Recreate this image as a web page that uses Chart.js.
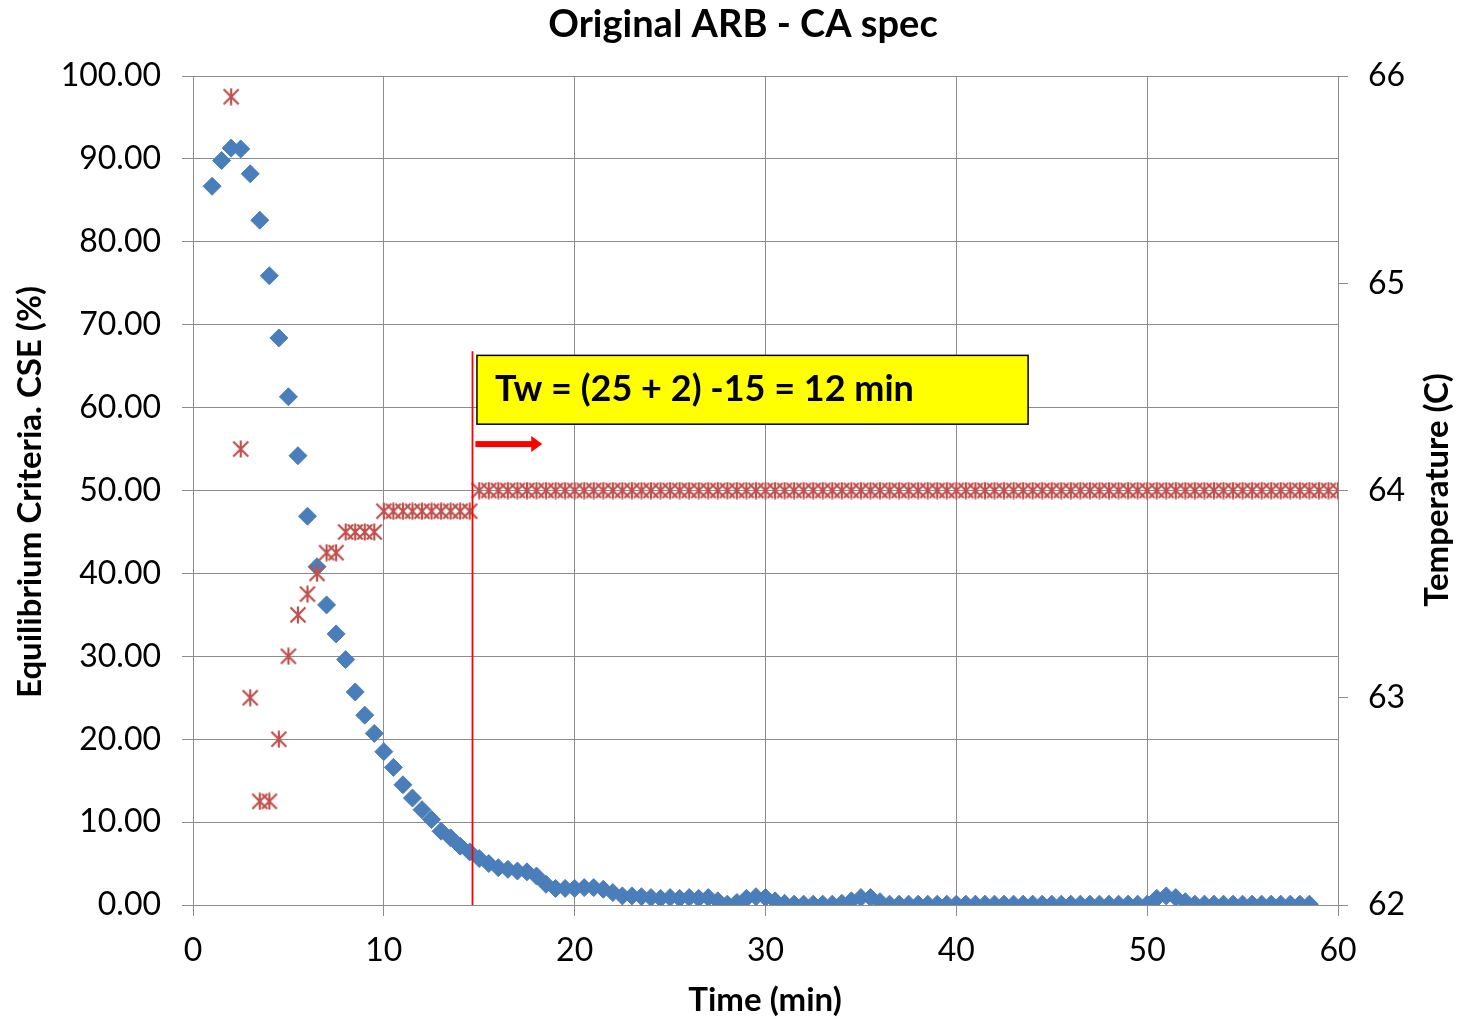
<!DOCTYPE html>
<html>
<head>
<meta charset="utf-8">
<title>Original ARB - CA spec</title>
<script src="https://cdn.jsdelivr.net/npm/chart.js@4.4.0/dist/chart.umd.min.js"></script>
<style>
  html, body { margin: 0; padding: 0; background: #fff; }
  #wrap { width: 1465px; height: 1019px; }
</style>
</head>
<body>
<div id="wrap"><canvas id="chart" width="1465" height="1019"></canvas></div>
<script>
// CSE series (left axis), sampled every half minute
const cseTimes = [
  1, 1.5, 2, 2.5, 3, 3.5, 4, 4.5, 5, 5.5, 6, 6.5, 7, 7.5, 8, 8.5, 9, 9.5, 10, 10.5,
  11, 11.5, 12, 12.5, 13, 13.5, 14, 14.5, 15, 15.5, 16, 16.5, 17, 17.5, 18, 18.5, 19, 19.5, 20, 20.5,
  21, 21.5, 22, 22.5, 23, 23.5, 24, 24.5, 25, 25.5, 26, 26.5, 27, 27.5, 28, 28.5, 29, 29.5, 30, 30.5,
  31, 31.5, 32, 32.5, 33, 33.5, 34, 34.5, 35, 35.5, 36, 36.5, 37, 37.5, 38, 38.5, 39, 39.5, 40, 40.5,
  41, 41.5, 42, 42.5, 43, 43.5, 44, 44.5, 45, 45.5, 46, 46.5, 47, 47.5, 48, 48.5, 49, 49.5, 50, 50.5,
  51, 51.5, 52, 52.5, 53, 53.5, 54, 54.5, 55, 55.5, 56, 56.5, 57, 57.5, 58, 58.5
];
const cseValues = [
  86.7, 89.8, 91.3, 91.2, 88.2, 82.6, 75.9, 68.4, 61.3, 54.2, 46.9, 40.8, 36.2, 32.7, 29.6, 25.7, 22.9, 20.7, 18.5, 16.6,
  14.5, 12.9, 11.5, 10.3, 8.9, 8.1, 7.1, 6.4, 5.6, 5.0, 4.5, 4.3, 4.1, 4.0, 3.5, 2.5, 2.0, 2.0, 2.0, 2.1,
  2.1, 1.9, 1.5, 1.1, 1.1, 1.0, 0.9, 0.8, 0.9, 0.8, 0.9, 0.8, 0.9, 0.5, 0.1, 0.3, 0.8, 1.0, 0.9, 0.5,
  0.2, 0.1, 0.1, 0.1, 0.1, 0.1, 0.2, 0.5, 0.9, 0.9, 0.4, 0.1, 0.1, 0.1, 0.1, 0.1, 0.1, 0.1, 0.1, 0.1,
  0.1, 0.1, 0.1, 0.1, 0.1, 0.1, 0.1, 0.1, 0.1, 0.1, 0.1, 0.1, 0.1, 0.1, 0.1, 0.1, 0.1, 0.1, 0.1, 0.8,
  1.1, 0.9, 0.4, 0.1, 0.1, 0.1, 0.1, 0.1, 0.1, 0.1, 0.1, 0.1, 0.1, 0.1, 0.1, 0.1
];

// Temperature series (right axis)
const tempTimes = [
  2, 2.5, 3, 3.5, 4, 4.5, 5, 5.5, 6, 6.5, 7, 7.5, 8, 8.5, 9, 9.5, 10, 10.5,
  11, 11.5, 12, 12.5, 13, 13.5, 14, 14.5, 15, 15.5, 16, 16.5, 17, 17.5, 18, 18.5, 19, 19.5, 20, 20.5,
  21, 21.5, 22, 22.5, 23, 23.5, 24, 24.5, 25, 25.5, 26, 26.5, 27, 27.5, 28, 28.5, 29, 29.5, 30, 30.5,
  31, 31.5, 32, 32.5, 33, 33.5, 34, 34.5, 35, 35.5, 36, 36.5, 37, 37.5, 38, 38.5, 39, 39.5, 40, 40.5,
  41, 41.5, 42, 42.5, 43, 43.5, 44, 44.5, 45, 45.5, 46, 46.5, 47, 47.5, 48, 48.5, 49, 49.5, 50, 50.5,
  51, 51.5, 52, 52.5, 53, 53.5, 54, 54.5, 55, 55.5, 56, 56.5, 57, 57.5, 58, 58.5, 59, 59.5, 60
];
const tempValues = [
  65.9, 64.2, 63.0, 62.5, 62.5, 62.8, 63.2, 63.4, 63.5, 63.6, 63.7, 63.7, 63.8, 63.8, 63.8, 63.8, 63.9, 63.9,
  63.9, 63.9, 63.9, 63.9, 63.9, 63.9, 63.9, 63.9, 64, 64, 64, 64, 64, 64, 64, 64, 64, 64, 64, 64,
  64, 64, 64, 64, 64, 64, 64, 64, 64, 64, 64, 64, 64, 64, 64, 64, 64, 64, 64, 64,
  64, 64, 64, 64, 64, 64, 64, 64, 64, 64, 64, 64, 64, 64, 64, 64, 64, 64, 64, 64,
  64, 64, 64, 64, 64, 64, 64, 64, 64, 64, 64, 64, 64, 64, 64, 64, 64, 64, 64, 64,
  64, 64, 64, 64, 64, 64, 64, 64, 64, 64, 64, 64, 64, 64, 64, 64, 64, 64, 64
];

// Axis ticks
const xTicks = [0, 10, 20, 30, 40, 50, 60];
const cseTicks = [0, 10, 20, 30, 40, 50, 60, 70, 80, 90, 100];
const tempTicks = [62, 63, 64, 65, 66];

// Annotation
const cutoffTime = 14.6;
const noteText = 'Tw = (25 + 2) -15 = 12 min';

const FONT = 'Lato';
const GRID = '#8c8c8c';
const BLUE = '#4a7ebb';
const RED = '#c0504d';

// Excel-like "star" marker: an x with a vertical bar
function makeStar(size, color) {
  const c = document.createElement('canvas');
  c.width = size; c.height = size;
  const g = c.getContext('2d');
  g.strokeStyle = color;
  g.lineWidth = 2.2;
  const m = 1.5, s = size - 1.5;
  g.beginPath();
  g.moveTo(m, m); g.lineTo(s, s);
  g.moveTo(s, m); g.lineTo(m, s);
  g.moveTo(size / 2, 0.5); g.lineTo(size / 2, size - 0.5);
  g.stroke();
  return c;
}
const starMark = makeStar(18, RED);

const toPoints = (xs, ys) => xs.map((x, i) => ({ x: x, y: ys[i] }));

const overlay = {
  id: 'overlay',
  afterDatasetsDraw(chart) {
    const { ctx, scales } = chart;
    const x = scales.x, y = scales.y;
    ctx.save();

    // cutoff line
    const lx = Math.round(x.getPixelForValue(cutoffTime)) + 0.5;
    ctx.strokeStyle = '#ff0000';
    ctx.lineWidth = 1.8;
    ctx.beginPath();
    ctx.moveTo(lx, y.getPixelForValue(66.8));
    ctx.lineTo(lx, y.getPixelForValue(0));
    ctx.stroke();

    // yellow note box
    const bx0 = x.getPixelForValue(14.88), bx1 = x.getPixelForValue(43.76);
    const by0 = y.getPixelForValue(66.3), by1 = y.getPixelForValue(58.0);
    ctx.fillStyle = '#ffff00';
    ctx.fillRect(bx0, by0, bx1 - bx0, by1 - by0);
    ctx.strokeStyle = '#000';
    ctx.lineWidth = 1.5;
    ctx.strokeRect(bx0, by0, bx1 - bx0, by1 - by0);
    ctx.fillStyle = '#000';
    ctx.font = 'bold 36px ' + FONT;
    ctx.textBaseline = 'middle';
    ctx.textAlign = 'left';
    ctx.fillText(noteText, bx0 + 18, (by0 + by1) / 2);

    // red arrow
    const ax0 = x.getPixelForValue(14.8), ax1 = x.getPixelForValue(18.3);
    const ay = y.getPixelForValue(55.6);
    ctx.fillStyle = '#ff0000';
    ctx.fillRect(ax0, ay - 3, ax1 - ax0 - 9, 6);
    ctx.beginPath();
    ctx.moveTo(ax1 - 11, ay - 8);
    ctx.lineTo(ax1, ay);
    ctx.lineTo(ax1 - 11, ay + 8);
    ctx.closePath();
    ctx.fill();

    // titles
    ctx.fillStyle = '#000';
    ctx.textAlign = 'center';
    ctx.font = 'bold 38px ' + FONT;
    ctx.fillText('Original ARB - CA spec', 743, 25);
    ctx.font = 'bold 33px ' + FONT;
    ctx.fillText('Time (min)', 765, 1000);

    ctx.save();
    ctx.translate(30, 492);
    ctx.rotate(-Math.PI / 2);
    ctx.fillText('Equilibrium Criteria. CSE (%)', 0, 0);
    ctx.restore();

    ctx.save();
    ctx.translate(1437, 490);
    ctx.rotate(-Math.PI / 2);
    ctx.fillText('Temperature (C)', 0, 0);
    ctx.restore();

    ctx.restore();
  }
};

const tickFont = { family: FONT, size: 32 };

new Chart(document.getElementById('chart').getContext('2d'), {
  type: 'scatter',
  data: {
    datasets: [
      {
        label: 'Temperature',
        data: toPoints(tempTimes, tempValues),
        yAxisID: 'y2',
        pointStyle: starMark,
        pointRadius: 9,
        order: 0
      },
      {
        label: 'CSE',
        data: toPoints(cseTimes, cseValues),
        yAxisID: 'y',
        pointStyle: 'rectRot',
        pointRadius: 9,
        backgroundColor: BLUE,
        borderColor: BLUE,
        borderWidth: 1,
        order: 1
      }
    ]
  },
  options: {
    responsive: false,
    animation: false,
    devicePixelRatio: 1,
    layout: { padding: { top: 76, left: 0, right: 0, bottom: 0 } },
    plugins: {
      legend: { display: false },
      tooltip: { enabled: false },
      title: { display: false }
    },
    scales: {
      x: {
        type: 'linear',
        min: 0,
        max: 60,
        afterBuildTicks: s => { s.ticks = xTicks.map(v => ({ value: v })); },
        afterFit: s => { s.height = 114; },
        ticks: { font: tickFont, color: '#000', padding: 15, maxRotation: 0 },
        grid: { color: GRID, tickLength: 11, tickColor: GRID },
        border: { color: GRID }
      },
      y: {
        position: 'left',
        min: 0,
        max: 100,
        afterBuildTicks: s => { s.ticks = cseTicks.map(v => ({ value: v })); },
        afterFit: s => { s.width = 193; },
        ticks: { font: tickFont, color: '#000', padding: 21, callback: v => v.toFixed(2) },
        grid: { color: GRID, tickLength: 11, tickColor: GRID },
        border: { color: GRID }
      },
      y2: {
        position: 'right',
        min: 62,
        max: 66,
        afterBuildTicks: s => { s.ticks = tempTicks.map(v => ({ value: v })); },
        afterFit: s => { s.width = 127; },
        ticks: { font: tickFont, color: '#000', padding: 20, callback: v => String(v) },
        grid: { drawOnChartArea: false, tickLength: 10, tickColor: GRID },
        border: { color: GRID }
      }
    }
  },
  plugins: [overlay]
});
</script>
</body>
</html>
